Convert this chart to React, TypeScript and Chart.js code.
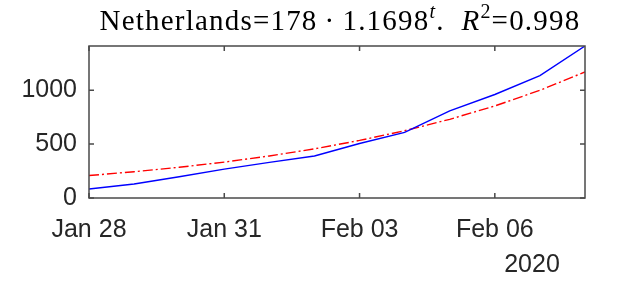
import React, { useEffect, useRef } from 'react';
import { Chart, registerables } from 'chart.js';
Chart.register(...registerables);

// Days from 2020-01-28 to 2020-02-08
const dayIndex = [0, 1, 2, 3, 4, 5, 6, 7, 8, 9, 10, 11];
const actual = [83, 130, 197, 268, 330, 390, 506, 608, 808, 960, 1136, 1410];
const fitted = [208, 244, 285, 333, 390, 456, 534, 624, 730, 854, 999, 1169];
const xTickDays = [0, 3, 6, 9];
const xTickLabels = ['Jan 28', 'Jan 31', 'Feb 03', 'Feb 06'];
const yTickValues = [0, 500, 1000];
const yearLabel = '2020';
const titleParts = [
  { text: 'Netherlands=178\u2009·\u20091.1698', style: 'normal', sup: false },
  { text: 't', style: 'italic', sup: true },
  { text: '.  ', style: 'normal', sup: false },
  { text: 'R', style: 'italic', sup: false },
  { text: '2', style: 'normal', sup: true },
  { text: '=0.998', style: 'normal', sup: false },
];

const AXIS_COLOR = '#262626';
const SANS = '"Liberation Sans", Arial, sans-serif';
const SERIF = '"Liberation Serif", "DejaVu Serif", serif';

const decorPlugin = {
  id: 'decor',
  afterDraw(chart: any) {
    const { ctx, chartArea, scales } = chart;
    const { left, right, top, bottom } = chartArea;
    ctx.save();
    // frame
    ctx.strokeStyle = '#4a4a4a';
    ctx.lineWidth = 1.5;
    ctx.strokeRect(left, top, right - left, bottom - top);
    // inward ticks
    const tl = 5;
    ctx.beginPath();
    xTickDays.forEach((d) => {
      const x = scales.x.getPixelForValue(d);
      ctx.moveTo(x, bottom);
      ctx.lineTo(x, bottom - tl);
      ctx.moveTo(x, top);
      ctx.lineTo(x, top + tl);
    });
    yTickValues.forEach((v) => {
      const y = scales.y.getPixelForValue(v);
      ctx.moveTo(left, y);
      ctx.lineTo(left + tl, y);
      ctx.moveTo(right, y);
      ctx.lineTo(right - tl, y);
    });
    ctx.stroke();
    // year label
    ctx.fillStyle = AXIS_COLOR;
    ctx.font = `25px ${SANS}`;
    ctx.textAlign = 'center';
    ctx.textBaseline = 'alphabetic';
    ctx.fillText(yearLabel, 532, 272);
    // title
    const size = 29;
    const supSize = 20;
    const spacing = 1.2;
    (ctx as any).letterSpacing = `${spacing}px`;
    const fontFor = (p: any) => `${p.style === 'italic' ? 'italic ' : ''}${p.sup ? supSize : size}px ${SERIF}`;
    let total = 0;
    titleParts.forEach((p) => {
      ctx.font = fontFor(p);
      total += ctx.measureText(p.text).width;
    });
    let x = 340 - total / 2;
    const base = 29.5;
    ctx.textAlign = 'left';
    ctx.fillStyle = '#000';
    titleParts.forEach((p) => {
      ctx.font = fontFor(p);
      ctx.fillText(p.text, x, p.sup ? base - 12 : base);
      x += ctx.measureText(p.text).width;
    });
    (ctx as any).letterSpacing = '0px';
    ctx.restore();
  },
};

export default function App() {
  const ref = useRef<HTMLCanvasElement>(null);
  useEffect(() => {
    document.body.style.margin = '0';
    const chart = new Chart(ref.current!, {
      type: 'line',
      data: {
        datasets: [
          {
            data: dayIndex.map((d, i) => ({ x: d, y: actual[i] })),
            borderColor: '#0000ff',
            borderWidth: 1.4,
            pointRadius: 0,
            fill: false,
          },
          {
            data: dayIndex.map((d, i) => ({ x: d, y: fitted[i] })),
            borderColor: '#ff0000',
            borderWidth: 1.4,
            borderDash: [10, 3, 2, 3],
            pointRadius: 0,
            fill: false,
          },
        ],
      },
      options: {
        responsive: false,
        animation: false,
        layout: { padding: { top: 46, right: 40, left: 0, bottom: 0 } },
        plugins: { legend: { display: false }, tooltip: { enabled: false }, title: { display: false } },
        scales: {
          x: {
            type: 'linear',
            min: 0,
            max: 11,
            grid: { display: false, drawTicks: false },
            border: { display: false },
            afterBuildTicks: (s: any) => {
              s.ticks = xTickDays.map((v) => ({ value: v }));
            },
            afterFit: (s: any) => {
              s.height = 83;
            },
            ticks: {
              autoSkip: false,
              maxRotation: 0,
              padding: 17,
              color: AXIS_COLOR,
              font: { family: SANS, size: 25 },
              callback: (v: any) => xTickLabels[xTickDays.indexOf(Number(v))] ?? '',
            },
          },
          y: {
            min: 0,
            max: 1410,
            grid: { display: false, drawTicks: false },
            border: { display: false },
            afterBuildTicks: (s: any) => {
              s.ticks = yTickValues.map((v) => ({ value: v }));
            },
            afterFit: (s: any) => {
              s.width = 89;
            },
            ticks: {
              padding: 12,
              color: AXIS_COLOR,
              font: { family: SANS, size: 25 },
              callback: (v: any) => String(v),
            },
          },
        },
      },
      plugins: [decorPlugin],
    });
    return () => chart.destroy();
  }, []);
  return (
    <div style={{ width: 625, height: 281, background: '#fff' }}>
      <canvas ref={ref} width={625} height={281} />
    </div>
  );
}
